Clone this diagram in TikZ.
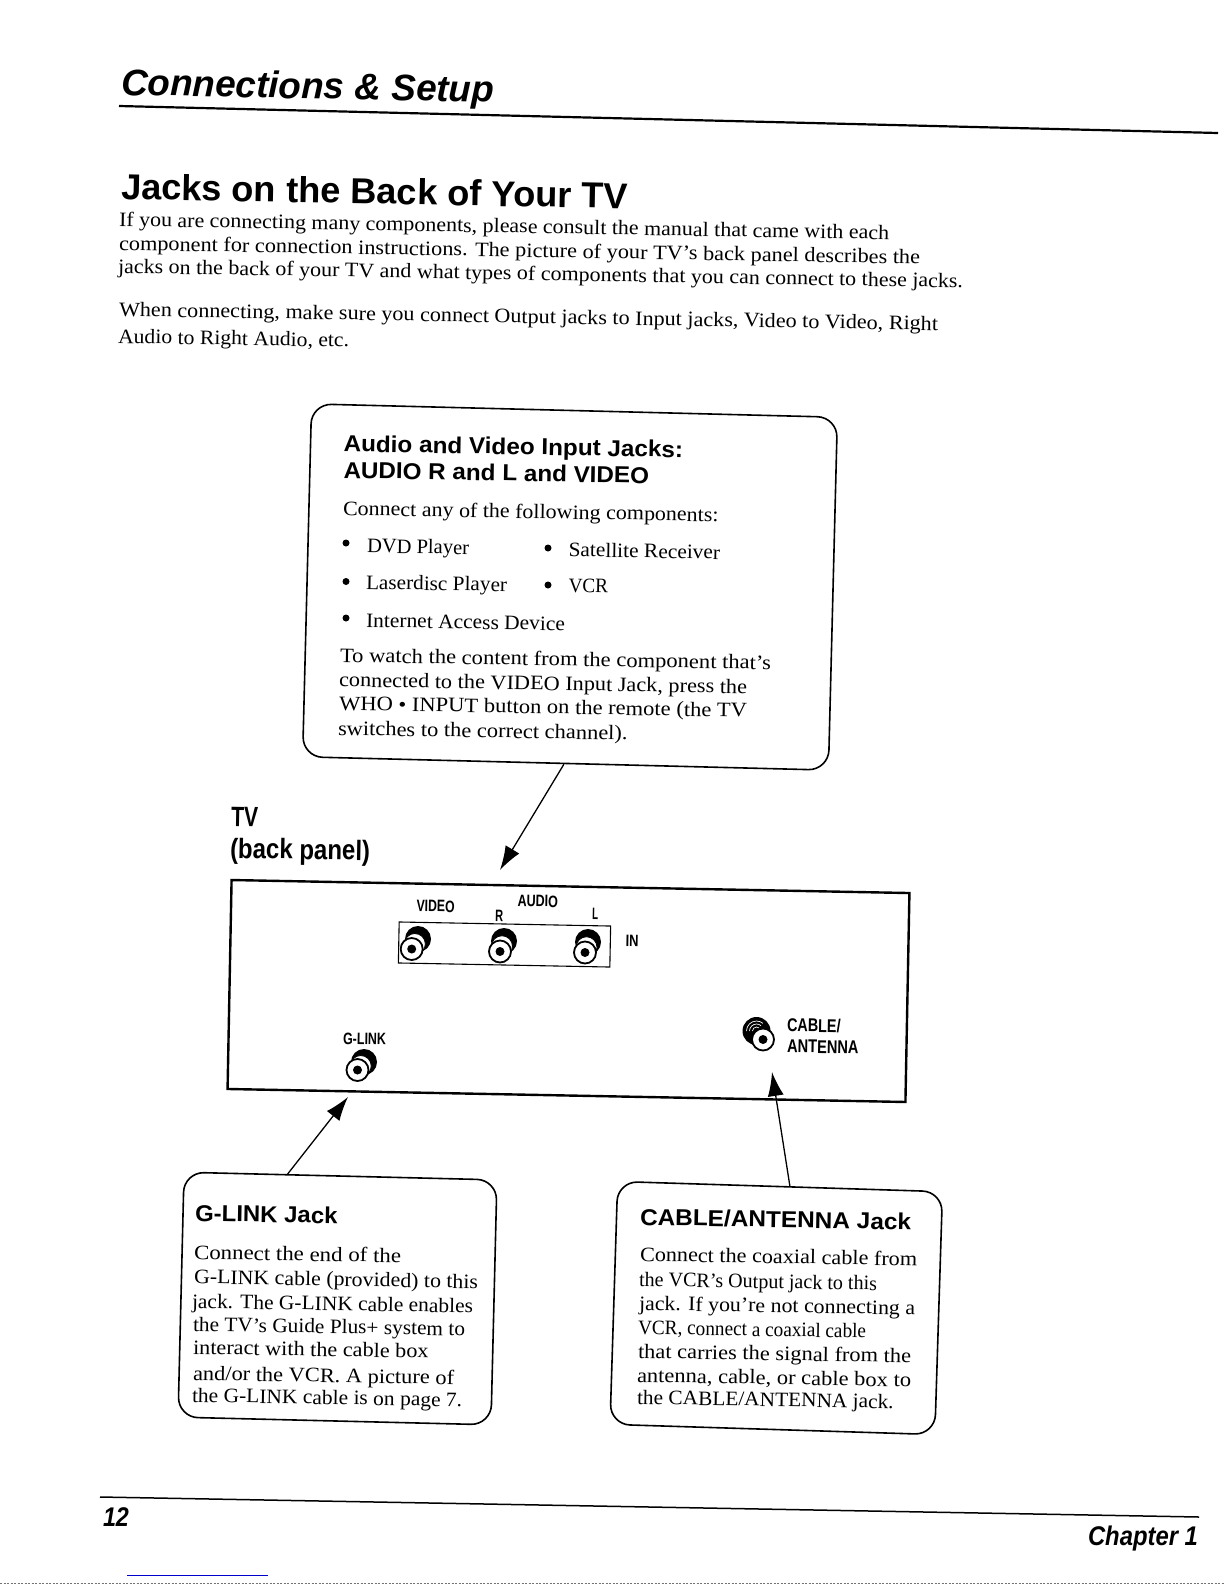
\documentclass[tikz,border=0pt]{standalone}
\usepackage{fontspec}
\usepackage{graphicx}
\usetikzlibrary{arrows.meta,calc}
\setmainfont{Liberation Serif}
\setsansfont{Liberation Sans}
\newcounter{tln}
% x, y = left end of the baseline in px; w = width in px
\newcommand{\txl}[5][-1]{\stepcounter{tln}\node[tline,rotate=#1] (t\thetln) at (#2,#3) {\resizebox{#4pt}{\height}{#5}};}
\newcommand{\fbody}{\fontsize{20.5}{24}\selectfont}
\newcommand{\fhd}{\fontsize{23}{26}\selectfont\sffamily\bfseries}
\newcommand{\ftit}{\fontsize{36}{40}\selectfont\sffamily\bfseries}
\newcommand{\fhdr}{\fontsize{37}{40}\selectfont\sffamily\bfseries\itshape}
\newcommand{\ffoot}{\fontsize{27}{30}\selectfont\sffamily\bfseries\itshape}
\newcommand{\flab}{\fontsize{16.5}{18}\selectfont\sffamily\bfseries}
\newcommand{\flabb}{\fontsize{18.5}{20}\selectfont\sffamily\bfseries}
\newcommand{\fbig}{\fontsize{28}{30}\selectfont\sffamily\bfseries}
\newcounter{blt}
\newcommand{\bulx}[2]{\stepcounter{blt}\node[bulletdot] (b\theblt) at (#1,#2) {};}
% front x, y; back x, y
\newcommand{\jackx}[5]{%
  \node[jackback] (#1b) at (#4,#5) {};
  \node[jackmid] (#1m) at ($(#2,#3)!0.5!(#4,#5)$) {};
  \node[jackfront] (#1f) at (#2,#3) {};
  \node[jackdot] (#1d) at (#2,#3) {};}
\tikzset{
  tline/.style={anchor=base west,inner sep=0pt,outer sep=0pt,text=black},
  bulletdot/.style={circle,fill=black,inner sep=0pt,minimum size=7pt},
  callout/.style={draw=black,line width=1.6pt,rounded corners=20pt,fill=white,inner sep=0pt},
  panel/.style={draw=black,line width=2.4pt,inner sep=0pt},
  jackbox/.style={draw=black,line width=1.1pt,inner sep=0pt},
  jackback/.style={circle,fill=black,inner sep=0pt,minimum size=26pt},
  jackmid/.style={circle,draw=black,line width=.8pt,fill=white,inner sep=0pt,minimum size=21pt},
  jackfront/.style={circle,draw=black,line width=1.8pt,fill=white,inner sep=0pt,minimum size=22pt},
  jackdot/.style={circle,fill=black,inner sep=0pt,minimum size=9pt},
  pointer/.style={draw=black,line width=1.3pt,-{Latex[length=24pt,width=16pt]}},
  rulebar/.style={draw=black,line width=2.2pt},
}
\begin{document}
\begin{tikzpicture}[x=1pt,y=-1pt]
\useasboundingbox (0,0) rectangle (1225,1585);
\fill[white] (0,0) rectangle (1225,1585);

% header
\txl[-1.1]{121}{95}{373}{\fhdr Connections \& Setup}
\coordinate (hruleA) at (119,106);
\coordinate (hruleB) at (1218,133);
\draw[rulebar] (hruleA) -- (hruleB);

\txl[-1.1]{121}{199}{507}{\ftit Jacks on the Back of Your TV}

\txl{119}{226}{770}{\fbody If you are connecting many components, please consult the manual that came with each}
\txl{119}{250}{801}{\fbody component for connection instructions. The picture of your TV's back panel describes the}
\txl{118}{273}{845}{\fbody jacks on the back of your TV and what types of components that you can connect to these jacks.}
\txl{119}{316}{819}{\fbody When connecting, make sure you connect Output jacks to Input jacks, Video to Video, Right}
\txl{118}{343}{231}{\fbody Audio to Right Audio, etc.}

% audio callout
\node[callout,minimum width=526pt,minimum height=353pt,rotate=-1.45] (audio) at (570,587) {};
\txl{343.5}{451.5}{339.5}{\fhd Audio and Video Input Jacks:}
\txl{343.5}{478}{305.5}{\fhd AUDIO R and L and VIDEO}
\txl{343}{515}{375.5}{\fbody Connect any of the following components:}
\bulx{346}{543}
\txl{367}{552.5}{102}{\fbody DVD Player}
\bulx{548}{548}
\txl{568.5}{556.5}{151.5}{\fbody Satellite Receiver}
\bulx{346}{581.5}
\txl{366}{589}{141}{\fbody Laserdisc Player}
\bulx{548}{585}
\txl{568.5}{592.5}{39.5}{\fbody VCR}
\bulx{346}{618}
\txl{366}{627}{199}{\fbody Internet Access Device}
\txl{340}{662}{431}{\fbody To watch the content from the component that's}
\txl{339}{686.5}{408}{\fbody connected to the VIDEO Input Jack, press the}
\txl{339}{710}{408}{\fbody WHO • INPUT button on the remote (the TV}
\txl{338}{735}{289.5}{\fbody switches to the correct channel).}

% TV label
\txl{231}{826.5}{27}{\fbig TV}
\txl{230}{858}{140}{\fbig (back panel)}

% panel
\node[panel,minimum width=678pt,minimum height=209pt,rotate=-1.1] (tv) at (568.5,991) {};
\node[jackbox,minimum width=211.5pt,minimum height=41pt,rotate=-1.1] (inbox) at (504.5,944.5) {};
\txl{416.5}{911.5}{38}{\flab VIDEO}
\txl{517.5}{906.5}{40.5}{\flab AUDIO}
\txl{495}{921}{8}{\flab R}
\txl{592}{919}{6}{\flab L}
\txl{625.5}{946.5}{13}{\flab IN}
\jackx{jv}{411.7}{949}{418}{939}
\jackx{jr}{500}{951.5}{504}{941}
\jackx{jl}{585}{952.5}{588}{942}
\txl{343}{1044}{43}{\flab G-LINK}
\jackx{jg}{357.5}{1070}{364}{1062}
\node[circle,fill=black,inner sep=0pt,minimum size=28pt] (cb) at (756.5,1031) {};
\draw[white,line width=.7pt] (cb.center)+(-10,0) arc[start angle=180,end angle=50,radius=10pt];
\draw[white,line width=.7pt] (cb.center)+(-7,0) arc[start angle=180,end angle=50,radius=7pt];
\draw[white,line width=.7pt] (cb.center)+(-4,0) arc[start angle=180,end angle=50,radius=4pt];
\node[jackfront] (cf) at (763,1039.5) {};
\node[jackdot] (cd) at (763,1039.5) {};
\txl{787}{1031.5}{53.5}{\flabb CABLE/}
\txl{787}{1052.5}{71.5}{\flabb ANTENNA}

% g-link callout
\node[callout,minimum width=313pt,minimum height=245pt,rotate=-1.4] (glink) at (337.5,1298.5) {};
\txl{195}{1221}{142.5}{\fhd G-LINK Jack}
\txl{194}{1259}{207}{\fbody Connect the end of the}
\txl{194}{1283.5}{284}{\fbody G-LINK cable (provided) to this}
\txl{192}{1308}{281}{\fbody jack. The G-LINK cable enables}
\txl{193}{1331}{272}{\fbody the TV's Guide Plus+ system to}
\txl{193}{1354}{235.5}{\fbody interact with the cable box}
\txl{193}{1380}{261}{\fbody and/or the VCR. A picture of}
\txl{192}{1402}{270}{\fbody the G-LINK cable is on page 7.}

% cable callout
\node[callout,minimum width=325pt,minimum height=243pt,rotate=-1.8] (cable) at (776.25,1308) {};
\txl{640}{1225}{271}{\fhd CABLE/ANTENNA Jack}
\txl{640}{1261}{277}{\fbody Connect the coaxial cable from}
\txl{639}{1286}{238}{\fbody the VCR's Output jack to this}
\txl{639}{1310}{276}{\fbody jack. If you're not connecting a}
\txl{638}{1334}{228}{\fbody VCR, connect a coaxial cable}
\txl{638}{1358}{273}{\fbody that carries the signal from the}
\txl{637}{1382}{274}{\fbody antenna, cable, or cable box to}
\txl{637}{1404}{256.5}{\fbody the CABLE/ANTENNA jack.}

% pointers
\coordinate (audioOut) at ($(audio.south west)!0.497!(audio.south east)$);
\coordinate (audioTip) at (500,870);
\draw[pointer] (audioOut) -- (audioTip);
\coordinate (glinkOut) at ($(glink.north west)!0.332!(glink.north east)$);
\coordinate (glinkTip) at (348,1097);
\draw[pointer] (glinkOut) -- (glinkTip);
\coordinate (cableOut) at ($(cable.north west)!0.53!(cable.north east)$);
\coordinate (cableTip) at (772,1072);
\draw[pointer] (cableOut) -- (cableTip);

% footer
\coordinate (fruleA) at (100,1497);
\coordinate (fruleB) at (1199,1517);
\draw[draw=black,line width=1.5pt] (fruleA) -- (fruleB);
\txl[0]{103}{1526}{26}{\ffoot 12}
\txl[0]{1088}{1545}{110}{\ffoot Chapter 1}

% scan artefacts
\coordinate (linkA) at (127,1575);
\coordinate (linkB) at (268,1575);
\draw[draw=blue!80!black,line width=1pt] (linkA) -- (linkB);
\coordinate (edgeA) at (0,1583.5);
\coordinate (edgeB) at (1225,1583.5);
\draw[draw=black!55,line width=1.5pt,dash pattern=on 2pt off 1.5pt] (edgeA) -- (edgeB);
\end{tikzpicture}
\end{document}
